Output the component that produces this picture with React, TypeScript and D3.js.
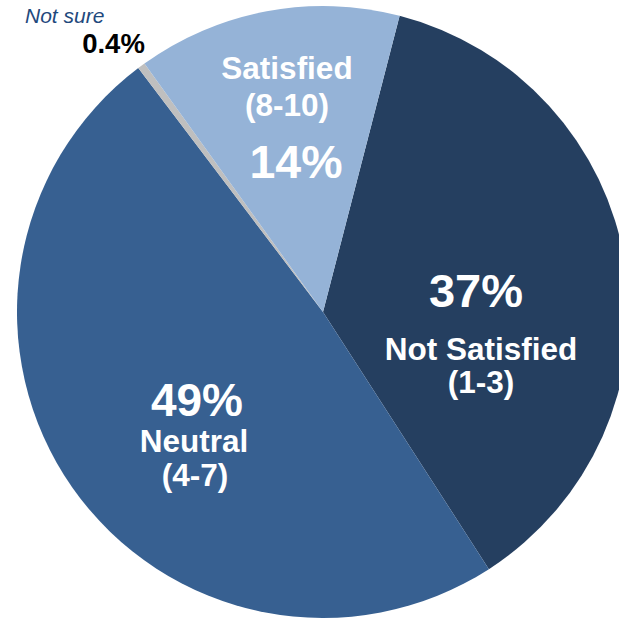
import React from "react";
import * as d3 from "d3";

const categories = ["Not Satisfied", "Neutral", "Not sure", "Satisfied"];
const values = [37, 49, 0.4, 14];
const colors = ["#253F60", "#376091", "#BFBFBF", "#95B3D7"];

const W = 619;
const H = 619;
const cx = 323;
const cy = 312;
const R = 306;
const startDeg = 14.5;

export default function App() {
  const pie = d3
    .pie<number>()
    .sort(null)
    .value((d) => d)
    .startAngle((startDeg * Math.PI) / 180)
    .endAngle((startDeg * Math.PI) / 180 + 2 * Math.PI);
  const arcs = pie(values);
  const arc = d3.arc<d3.PieArcDatum<number>>().innerRadius(0).outerRadius(R);
  const font = "'Liberation Sans', Arial, sans-serif";
  const t = (x: number, y: number, s: string, size: number, extra: any = {}) => (
    <text
      x={x}
      y={y}
      textAnchor="middle"
      fontFamily={font}
      fontWeight="bold"
      fontSize={size}
      fill="#FFFFFF"
      {...extra}
    >
      {s}
    </text>
  );
  return (
    <svg
      width={W}
      height={H}
      style={{ position: "absolute", left: 0, top: 0, display: "block" }}
    >
      <rect width={W} height={H} fill="#FFFFFF" />
      <g transform={`translate(${cx},${cy})`}>
        {arcs.map((a, i) => (
          <path key={categories[i]} d={arc(a) || ""} fill={colors[i]} />
        ))}
      </g>
      {t(287, 79, "Satisfied", 31.5)}
      {t(287, 116, "(8-10)", 31.5)}
      {t(296, 178, "14%", 46.5)}
      {t(476, 307, "37%", 47)}
      {t(481, 360, "Not Satisfied", 31.5)}
      {t(481, 393, "(1-3)", 31.5)}
      {t(197, 416, "49%", 46)}
      {t(194, 452, "Neutral", 31.5)}
      {t(195, 486, "(4-7)", 31.5)}
      <text x={25} y={23} fontFamily={font} fontStyle="italic" fontSize={21} fill="#1F497D">
        Not sure
      </text>
      {t(113.5, 53, "0.4%", 27.5, { fill: "#000000" })}
    </svg>
  );
}
